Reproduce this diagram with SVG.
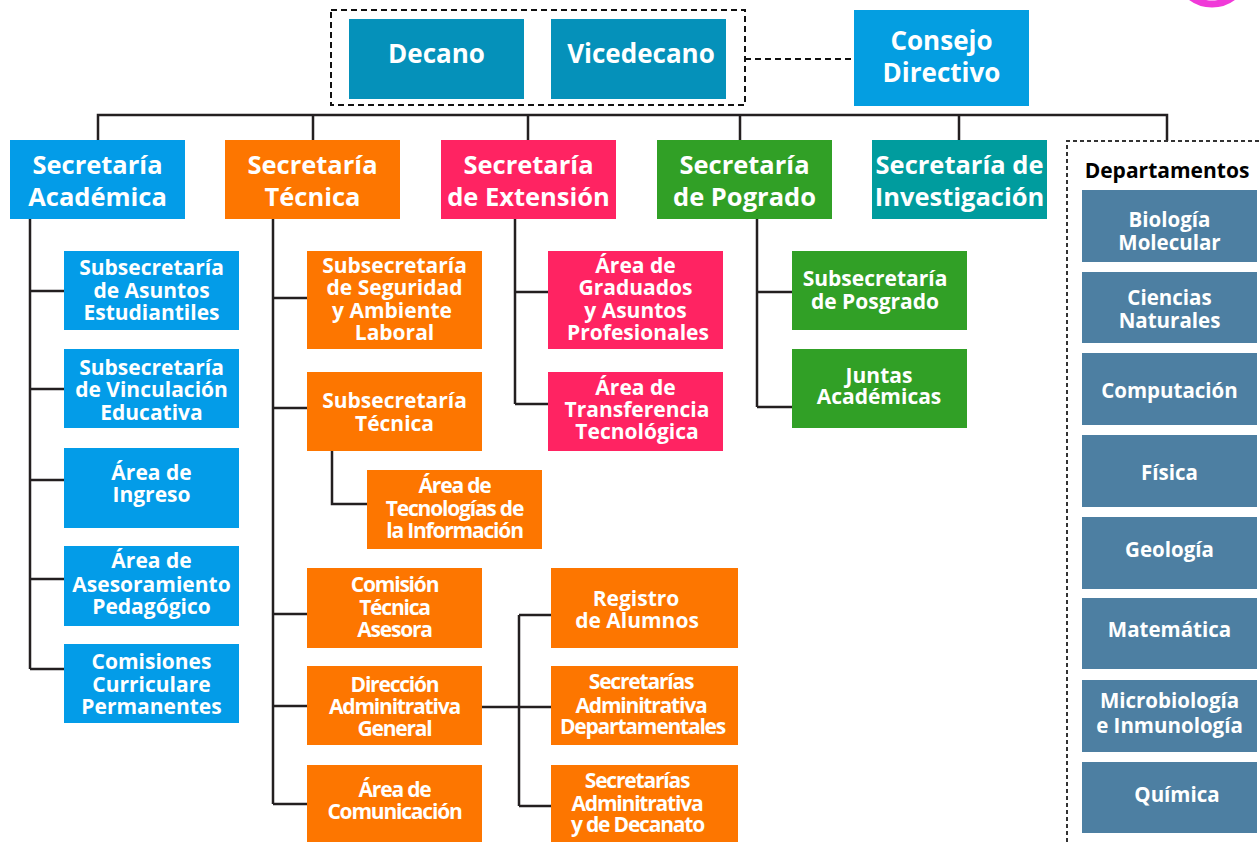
<svg xmlns="http://www.w3.org/2000/svg" width="1259" height="842" viewBox="0 0 1259 842">
<style>
.t{font-family:"Open Sans","Liberation Sans",sans-serif;font-weight:700;fill:#fff;text-anchor:middle}
.big{font-size:25.5px}
.top{font-size:26px}
.sub{font-size:21px}
.cd{letter-spacing:-1.2px}
.dep{font-size:20.5px}
.ln{fill:none;stroke:#231f20;stroke-width:2.5}
.dash{fill:none;stroke:#111;stroke-width:2;stroke-dasharray:6 4}
.dot{fill:none;stroke:#333;stroke-width:2;stroke-dasharray:4 3}
.c-dec{fill:#0591ba}.c-con{fill:#049ee1}.c-aca{fill:#039ce8}.c-tec{fill:#fd7600}.c-ext{fill:#ff2362}.c-pos{fill:#31a026}.c-inv{fill:#009c9e}.c-dep{fill:#4d7fa2}
</style>
<circle cx="1212" cy="-31" r="35" fill="none" stroke="#f03ad8" stroke-width="7"/>
<g id="connectors">
<rect class="dash" x="331" y="10" width="414" height="95"/>
<path class="dash" d="M745,59 H854"/>
<path class="ln" d="M98,140 V115 H1167 V141 M313,115 V140 M528,115 V140 M740,115 V140 M959,115 V140"/>
<path class="dot" d="M1067,842 V141 H1259"/>
<path class="ln" d="M30,219 V669 M30,291 H64 M30,389 H64 M30,480 H64 M30,579 H64 M30,669 H64"/>
<path class="ln" d="M273,219 V804 M273,298 H307 M273,408 H307 M273,614 H307 M273,706 H307 M273,804 H307 M332,451 V504 H367"/>
<path class="ln" d="M482,707 H551 M519,615 V806 M519,615 H551 M519,806 H551"/>
<path class="ln" d="M515,219 V404 M515,292 H548 M515,404 H548"/>
<path class="ln" d="M757,219 V407 M757,292 H792 M757,407 H792"/>
</g>
<g id="decano"><rect class="c-dec" x="349" y="19" width="175" height="80"/><text class="t top" x="436.5" y="63">Decano</text></g>
<g id="vicedecano"><rect class="c-dec" x="551" y="19" width="175" height="80"/><text class="t top" x="641" y="63">Vicedecano</text></g>
<g id="consejo"><rect class="c-con" x="854" y="10" width="175" height="96"/><text class="t top" x="941.5" y="50">Consejo</text><text class="t top" x="941.5" y="82">Directivo</text></g>
<g id="sec-academica"><rect class="c-aca" x="10" y="140" width="175" height="79"/><text class="t big" x="97.5" y="174">Secretaría</text><text class="t big" x="97.5" y="206">Académica</text></g>
<g id="sec-tecnica"><rect class="c-tec" x="225" y="140" width="175" height="79"/><text class="t big" x="312.5" y="174">Secretaría</text><text class="t big" x="312.5" y="206">Técnica</text></g>
<g id="sec-extension"><rect class="c-ext" x="441" y="140" width="175" height="79"/><text class="t big" x="528.5" y="174">Secretaría</text><text class="t big" x="528.5" y="206">de Extensión</text></g>
<g id="sec-pogrado"><rect class="c-pos" x="657" y="140" width="175" height="79"/><text class="t big" x="744.5" y="174">Secretaría</text><text class="t big" x="744.5" y="206">de Pogrado</text></g>
<g id="sec-investigacion"><rect class="c-inv" x="872" y="140" width="175" height="79"/><text class="t big" x="959.5" y="174">Secretaría de</text><text class="t big" x="959.5" y="206">Investigación</text></g>
<g id="aca-asuntos"><rect class="c-aca" x="64" y="251" width="175" height="79"/><text class="t sub" x="151.5" y="275">Subsecretaría</text><text class="t sub" x="151.5" y="298">de Asuntos</text><text class="t sub" x="151.5" y="320">Estudiantiles</text></g>
<g id="aca-vinculacion"><rect class="c-aca" x="64" y="349" width="175" height="79"/><text class="t sub" x="151.5" y="375">Subsecretaría</text><text class="t sub" x="151.5" y="397">de Vinculación</text><text class="t sub" x="151.5" y="420">Educativa</text></g>
<g id="aca-ingreso"><rect class="c-aca" x="64" y="448" width="175" height="80"/><text class="t sub" x="151.5" y="480">Área de</text><text class="t sub" x="151.5" y="502">Ingreso</text></g>
<g id="aca-asesoramiento"><rect class="c-aca" x="64" y="546" width="175" height="80"/><text class="t sub" x="151.5" y="568">Área de</text><text class="t sub" x="151.5" y="592">Asesoramiento</text><text class="t sub" x="151.5" y="614">Pedagógico</text></g>
<g id="aca-comisiones"><rect class="c-aca" x="64" y="644" width="175" height="79"/><text class="t sub" x="151.5" y="669">Comisiones</text><text class="t sub" x="151.5" y="692">Curriculare</text><text class="t sub" x="151.5" y="714">Permanentes</text></g>
<g id="tec-seguridad"><rect class="c-tec" x="307" y="251" width="175" height="98"/><text class="t sub" x="394.5" y="273">Subsecretaría</text><text class="t sub" x="394.5" y="295">de Seguridad</text><text class="t sub" x="392" y="318">y Ambiente</text><text class="t sub" x="394.5" y="340">Laboral</text></g>
<g id="tec-subtecnica"><rect class="c-tec" x="307" y="372" width="175" height="79"/><text class="t sub" x="394.5" y="408">Subsecretaría</text><text class="t sub" x="394.5" y="431">Técnica</text></g>
<g id="tec-ti"><rect class="c-tec" x="367" y="470" width="175" height="79"/><text class="t sub cd" x="454.5" y="493">Área de</text><text class="t sub cd" x="454.5" y="516">Tecnologías de</text><text class="t sub cd" x="454.5" y="538">la Información</text></g>
<g id="tec-comision"><rect class="c-tec" x="307" y="568" width="175" height="80"/><text class="t sub cd" x="394.5" y="592">Comisión</text><text class="t sub cd" x="394.5" y="615">Técnica</text><text class="t sub cd" x="394.5" y="637">Asesora</text></g>
<g id="tec-direccion"><rect class="c-tec" x="307" y="666" width="175" height="79"/><text class="t sub cd" x="394.5" y="692">Dirección</text><text class="t sub cd" x="394.5" y="714">Adminitrativa</text><text class="t sub cd" x="394.5" y="736">General</text></g>
<g id="tec-comunicacion"><rect class="c-tec" x="307" y="765" width="175" height="77"/><text class="t sub cd" x="394.5" y="797">Área de</text><text class="t sub cd" x="394.5" y="819">Comunicación</text></g>
<g id="dir-registro"><rect class="c-tec" x="551" y="568" width="187" height="80"/><text class="t sub" x="636" y="606">Registro</text><text class="t sub" x="637" y="628">de Alumnos</text></g>
<g id="dir-departamentales"><rect class="c-tec" x="551" y="666" width="187" height="79"/><text class="t sub cd" x="641" y="689">Secretarías</text><text class="t sub cd" x="641" y="713">Adminitrativa</text><text class="t sub cd" x="642.5" y="734">Departamentales</text></g>
<g id="dir-decanato"><rect class="c-tec" x="551" y="765" width="187" height="77"/><text class="t sub cd" x="637" y="788">Secretarías</text><text class="t sub cd" x="637" y="811">Adminitrativa</text><text class="t sub cd" x="637.5" y="832">y de Decanato</text></g>
<g id="ext-graduados"><rect class="c-ext" x="548" y="251" width="175" height="98"/><text class="t sub" x="635.5" y="273">Área de</text><text class="t sub" x="635.5" y="295">Graduados</text><text class="t sub" x="635.5" y="318">y Asuntos</text><text class="t sub" x="638" y="340">Profesionales</text></g>
<g id="ext-transferencia"><rect class="c-ext" x="548" y="372" width="175" height="79"/><text class="t sub" x="635.5" y="395">Área de</text><text class="t sub" x="637" y="417">Transferencia</text><text class="t sub" x="637" y="439">Tecnológica</text></g>
<g id="pos-subsecretaria"><rect class="c-pos" x="792" y="251" width="175" height="79"/><text class="t sub" x="875" y="286">Subsecretaría</text><text class="t sub" x="875" y="309">de Posgrado</text></g>
<g id="pos-juntas"><rect class="c-pos" x="792" y="349" width="175" height="79"/><text class="t sub" x="879" y="383">Juntas</text><text class="t sub" x="879" y="404">Académicas</text></g>
<g id="departamentos">
<text x="1167" y="178" style="font-family:'Open Sans','Liberation Sans',sans-serif;font-weight:700;font-size:21px;fill:#000;text-anchor:middle">Departamentos</text>
<g id="dep-biologia"><rect class="c-dep" x="1082" y="190" width="175" height="72"/><text class="t dep" x="1169.5" y="227">Biología</text><text class="t dep" x="1169.5" y="250">Molecular</text></g>
<g id="dep-ciencias"><rect class="c-dep" x="1082" y="272" width="175" height="71"/><text class="t dep" x="1169.5" y="305">Ciencias</text><text class="t dep" x="1169.5" y="328">Naturales</text></g>
<g id="dep-computacion"><rect class="c-dep" x="1082" y="353" width="175" height="72"/><text class="t dep" x="1169.5" y="398">Computación</text></g>
<g id="dep-fisica"><rect class="c-dep" x="1082" y="435" width="175" height="72"/><text class="t dep" x="1169.5" y="480">Física</text></g>
<g id="dep-geologia"><rect class="c-dep" x="1082" y="517" width="175" height="72"/><text class="t dep" x="1169.5" y="557">Geología</text></g>
<g id="dep-matematica"><rect class="c-dep" x="1082" y="598" width="175" height="71"/><text class="t dep" x="1169.5" y="637">Matemática</text></g>
<g id="dep-microbiologia"><rect class="c-dep" x="1082" y="680" width="175" height="72"/><text class="t dep" x="1169.5" y="708">Microbiología</text><text class="t dep" x="1169.5" y="733">e Inmunología</text></g>
<g id="dep-quimica"><rect class="c-dep" x="1082" y="762" width="175" height="71"/><text class="t dep" x="1177" y="802">Química</text></g>
</g>
</svg>
